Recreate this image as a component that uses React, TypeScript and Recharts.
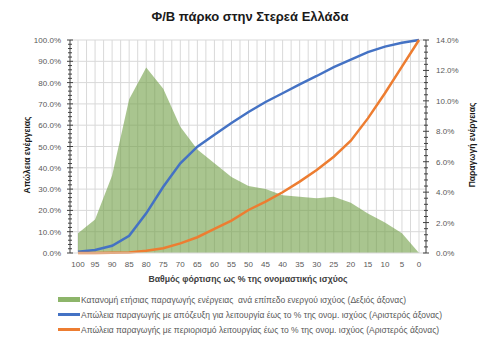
import React from 'react';
import { ComposedChart, Area, Line, XAxis, YAxis, CartesianGrid } from 'recharts';

const loadLevels = [100, 95, 90, 85, 80, 75, 70, 65, 60, 55, 50, 45, 40, 35, 30, 25, 20, 15, 10, 5, 0];
const productionShare = [1.3, 2.2, 5.1, 10.1, 12.2, 10.8, 8.3, 6.8, 5.9, 5.0, 4.4, 4.2, 3.8, 3.7, 3.6, 3.7, 3.3, 2.6, 2.0, 1.3, 0];
const lossDisconnect = [0.6, 1.4, 3.4, 8.1, 18.6, 31.1, 42.1, 49.9, 55.5, 61.0, 66.2, 70.9, 75.0, 79.2, 83.1, 87.3, 90.8, 94.3, 96.9, 98.7, 100];
const lossCurtail = [0, 0, 0.1, 0.2, 1.1, 2.2, 4.5, 7.4, 11.3, 15.2, 20.2, 24.1, 28.5, 33.5, 39.0, 45.2, 52.7, 63.2, 75.0, 87.5, 100];

const leftMinorStep = 2;
const rightMinorStep = 0.4;
const leftAllTicks = Array.from({ length: 51 }, (_, i) => i * leftMinorStep);
const rightAllTicks = Array.from({ length: 36 }, (_, i) => Math.round(i * rightMinorStep * 10) / 10);
const gridXValues = Array.from({ length: 41 }, (_, i) => 100 - i * 2.5);
const gridYValues = [10, 20, 30, 40, 50, 60, 70, 80, 90, 100];

const seriesNames = {
  production: 'Κατανομή ετήσιας παραγωγής ενέργειας  ανά επίπεδο ενεργού ισχύος (Δεξιός άξονας)',
  disconnect: 'Απώλεια παραγωγής με απόζευξη για λειτουργία έως το % της ονομ. ισχύος (Αριστερός άξονας)',
  curtail: 'Απώλεια παραγωγής με περιορισμό λειτουργίας έως το % της ονομ. ισχύος (Αριστερός άξονας)',
};

const data = loadLevels.map((load, i) => ({
  load,
  production: productionShare[i],
  disconnect: lossDisconnect[i],
  curtail: lossCurtail[i],
}));

const FONT = '"Liberation Sans", Arial, sans-serif';
const TICK_COLOR = '#595959';
const AXIS_COLOR = '#404040';

const isMultiple = (v: number, step: number) => Math.abs(v / step - Math.round(v / step)) < 1e-6;

const LeftTick = (props: any) => {
  const { x, y, payload } = props;
  const v = payload.value as number;
  const major = isMultiple(v, 10);
  return (
    <g>
      <line x1={x - (major ? 3 : 2)} x2={x + (major ? 3 : 2)} y1={y} y2={y} stroke={AXIS_COLOR} strokeWidth={1} />
      {major && (
        <text x={x - 9} y={y} dy={3} textAnchor="end" fontSize={8} fill={TICK_COLOR} fontFamily={FONT}>
          {v.toFixed(1)}%
        </text>
      )}
    </g>
  );
};

const RightTick = (props: any) => {
  const { x, y, payload } = props;
  const v = payload.value as number;
  const major = isMultiple(v, 2);
  return (
    <g>
      <line x1={x - (major ? 3 : 2)} x2={x + (major ? 3 : 2)} y1={y} y2={y} stroke={AXIS_COLOR} strokeWidth={1} />
      {major && (
        <text x={x + 10} y={y} dy={3} textAnchor="start" fontSize={8} fill={TICK_COLOR} fontFamily={FONT}>
          {v.toFixed(1)}%
        </text>
      )}
    </g>
  );
};

const legendItems = [
  { key: 'production', type: 'area', color: '#8db56a' },
  { key: 'disconnect', type: 'line', color: '#4472c4' },
  { key: 'curtail', type: 'line', color: '#ed7d31' },
];

export default function App() {
  return (
    <div style={{ position: 'absolute', left: 0, top: 0, width: 500, height: 360, background: '#fff', fontFamily: FONT }}>
      <div
        style={{
          position: 'absolute', left: 0, top: 9, width: 500, textAlign: 'center',
          fontSize: 13, fontWeight: 'bold', lineHeight: '16px', color: '#1a1a1a',
        }}
      >
        Φ/Β πάρκο στην Στερεά Ελλάδα
      </div>
      <ComposedChart
        width={500}
        height={360}
        data={data}
        margin={{ top: 40, right: 0, bottom: 77, left: 0 }}
        style={{ fontFamily: FONT }}
      >
        <CartesianGrid
          yAxisId="left"
          stroke="#d9d9d9"
          strokeWidth={1}
          horizontalValues={gridYValues}
          verticalValues={gridXValues}
        />
        <XAxis
          type="number"
          dataKey="load"
          domain={[-2.05, 102.35]}
          reversed
          ticks={loadLevels}
          interval={0}
          tickLine={false}
          axisLine={{ stroke: '#d9d9d9' }}
          tick={{ fontSize: 8, fill: TICK_COLOR }}
          height={30}
        />
        <YAxis
          yAxisId="left"
          orientation="left"
          domain={[0, 100]}
          ticks={leftAllTicks}
          interval={0}
          width={70}
          tickLine={false}
          tickSize={0}
          tickMargin={0}
          axisLine={{ stroke: AXIS_COLOR }}
          tick={<LeftTick />}
        />
        <YAxis
          yAxisId="right"
          orientation="right"
          domain={[0, 14]}
          ticks={rightAllTicks}
          interval={0}
          width={74}
          tickLine={false}
          tickSize={0}
          tickMargin={0}
          axisLine={{ stroke: AXIS_COLOR }}
          tick={<RightTick />}
        />
        <Area
          yAxisId="right"
          type="linear"
          dataKey="production"
          name={seriesNames.production}
          stroke="none"
          fill="#6f9e45"
          fillOpacity={0.6}
          isAnimationActive={false}
        />
        <Line
          yAxisId="left"
          type="linear"
          dataKey="disconnect"
          name={seriesNames.disconnect}
          stroke="#4472c4"
          strokeWidth={2.5}
          dot={false}
          isAnimationActive={false}
        />
        <Line
          yAxisId="left"
          type="linear"
          dataKey="curtail"
          name={seriesNames.curtail}
          stroke="#ed7d31"
          strokeWidth={2.5}
          dot={false}
          isAnimationActive={false}
        />
      </ComposedChart>
      <div
        style={{
          position: 'absolute', left: 14, top: 142, width: 26, height: 26,
          display: 'flex', alignItems: 'center', justifyContent: 'center',
        }}
      >
        <div style={{ transform: 'rotate(-90deg)', whiteSpace: 'nowrap', fontSize: 8.5, fontWeight: 'bold', color: '#1a1a1a' }}>
          Απώλεια ενέργειας
        </div>
      </div>
      <div
        style={{
          position: 'absolute', left: 459, top: 132, width: 26, height: 26,
          display: 'flex', alignItems: 'center', justifyContent: 'center',
        }}
      >
        <div style={{ transform: 'rotate(-90deg)', whiteSpace: 'nowrap', fontSize: 8.5, fontWeight: 'bold', color: '#1a1a1a' }}>
          Παραγωγή ενέργειας
        </div>
      </div>
      <div
        style={{
          position: 'absolute', left: 48, top: 273, width: 400, textAlign: 'center',
          fontSize: 8.7, fontWeight: 'bold', lineHeight: '12px', color: '#404040',
        }}
      >
        Βαθμός φόρτισης ως % της ονομαστικής ισχύος
      </div>
      <div style={{ position: 'absolute', left: 58, top: 292 }}>
        {legendItems.map((it) => (
          <div key={it.key} style={{ display: 'flex', alignItems: 'center', height: 15 }}>
            <div
              style={{
                width: 22,
                height: it.type === 'area' ? 5 : 2.5,
                background: it.color,
                marginRight: 1,
              }}
            />
            <span style={{ fontSize: 8.5, color: TICK_COLOR, whiteSpace: 'pre' }}>
              {seriesNames[it.key as keyof typeof seriesNames]}
            </span>
          </div>
        ))}
      </div>
    </div>
  );
}
